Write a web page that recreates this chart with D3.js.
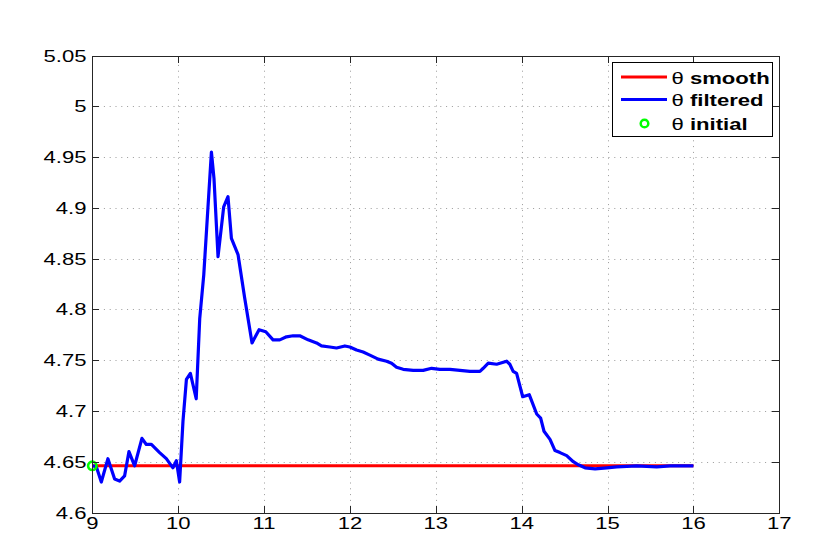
<!DOCTYPE html>
<html>
<head>
<meta charset="utf-8">
<script src="https://cdn.jsdelivr.net/npm/d3@7"></script>
<style>
  html, body { margin: 0; padding: 0; background: #fff; }
  svg { display: block; }
  text { font-family: "Liberation Sans", Arial, sans-serif; }
</style>
</head>
<body>
<svg id="chart" width="831" height="554"></svg>
<script>
// ---- data ----
const xTicks = [9, 10, 11, 12, 13, 14, 15, 16, 17];
const yTicks = [4.6, 4.65, 4.7, 4.75, 4.8, 4.85, 4.9, 4.95, 5, 5.05];
const yTickLabels = ["4.6", "4.65", "4.7", "4.75", "4.8", "4.85", "4.9", "4.95", "5", "5.05"];

const smoothT = [9, 16];
const smoothV = [4.646, 4.646];

const filteredT = [9.0, 9.047, 9.105, 9.182, 9.260, 9.318, 9.376, 9.427, 9.493, 9.578, 9.629, 9.688,
  9.784, 9.862, 9.939, 9.979, 10.017, 10.056, 10.096, 10.142, 10.21, 10.251, 10.298, 10.387, 10.417,
  10.464, 10.530, 10.580, 10.620, 10.697, 10.775, 10.860, 10.942, 11.020, 11.105, 11.183, 11.261,
  11.338, 11.416, 11.513, 11.611, 11.669, 11.766, 11.844, 11.941, 11.999, 12.077, 12.154, 12.232,
  12.329, 12.427, 12.485, 12.543, 12.620, 12.737, 12.853, 12.951, 13.048, 13.165, 13.281, 13.397,
  13.514, 13.552, 13.611, 13.709, 13.825, 13.862, 13.901, 13.941, 14.012, 14.088, 14.175, 14.221,
  14.260, 14.330, 14.388, 14.446, 14.524, 14.601, 14.660, 14.738, 14.855, 14.991, 15.107, 15.340,
  15.573, 15.728, 16.0];
const filteredV = [4.646, 4.645, 4.630, 4.653, 4.633, 4.631, 4.636, 4.660, 4.646, 4.673, 4.667, 4.667,
  4.659, 4.653, 4.644, 4.651, 4.630, 4.690, 4.731, 4.737, 4.712, 4.791, 4.834, 4.955, 4.929,
  4.852, 4.901, 4.911, 4.870, 4.854, 4.811, 4.767, 4.780, 4.778, 4.770, 4.770, 4.773,
  4.774, 4.774, 4.770, 4.767, 4.764, 4.763, 4.762, 4.764, 4.763, 4.760, 4.758, 4.755,
  4.751, 4.749, 4.747, 4.743, 4.741, 4.740, 4.740, 4.742, 4.741, 4.741, 4.740, 4.739,
  4.739, 4.742, 4.747, 4.746, 4.749, 4.746, 4.739, 4.737, 4.714, 4.716, 4.697, 4.693,
  4.680, 4.672, 4.661, 4.659, 4.656, 4.650, 4.647, 4.644, 4.643, 4.644, 4.645, 4.646,
  4.645, 4.646, 4.646];

const initialT = [9];
const initialV = [4.646];

const legendSymbol = "\u03b8";
const legendLabels = ["smooth", "filtered", "initial"];
const legendColors = ["#ff0000", "#0000ff", "#00ff00"];

// ---- layout ----
const L = 92.3, R = 779.3, T = 55.5, B = 512.5;
const x = d3.scaleLinear().domain([9, 17]).range([L, R]);
const y = d3.scaleLinear().domain([4.6, 5.05]).range([B, T]);
const svg = d3.select("#chart");
const axisColor = "#262626";
const sx = 1.3;

svg.append("rect").attr("width", 831).attr("height", 554).attr("fill", "#fff");

// grid
const grid = svg.append("g").attr("stroke", "#9a9a9a").attr("stroke-width", 1)
  .attr("stroke-dasharray", "1,4.8");
grid.selectAll("line.vx").data(xTicks.slice(1, -1)).join("line")
  .attr("class", "vx")
  .attr("x1", d => Math.round(x(d)) + 0.5).attr("x2", d => Math.round(x(d)) + 0.5)
  .attr("y1", B).attr("y2", T);
grid.selectAll("line.hy").data(yTicks.slice(1, -1)).join("line")
  .attr("class", "hy")
  .attr("y1", d => Math.round(y(d)) + 0.5).attr("y2", d => Math.round(y(d)) + 0.5)
  .attr("x1", L).attr("x2", R);

// series
const line = d3.line().x(d => x(d[0])).y(d => y(d[1]));
svg.append("path")
  .datum(d3.zip(smoothT, smoothV))
  .attr("d", line).attr("fill", "none")
  .attr("stroke", legendColors[0]).attr("stroke-width", 3);
svg.append("path")
  .datum(d3.zip(filteredT, filteredV))
  .attr("d", line).attr("fill", "none")
  .attr("stroke", legendColors[1]).attr("stroke-width", 3.2)
  .attr("stroke-linejoin", "round");
svg.selectAll("circle.init").data(d3.zip(initialT, initialV)).join("circle")
  .attr("class", "init")
  .attr("cx", d => x(d[0])).attr("cy", d => y(d[1])).attr("r", 4.2)
  .attr("fill", "none").attr("stroke", legendColors[2]).attr("stroke-width", 2.6);

// axes box
const ax = svg.append("g").attr("stroke", axisColor).attr("stroke-width", 1).attr("fill", "none");
ax.append("rect").attr("x", Math.round(L) + 0.5).attr("y", Math.round(T) + 0.5)
  .attr("width", Math.round(R) - Math.round(L)).attr("height", Math.round(B) - Math.round(T));
const tl = 7;
xTicks.forEach(v => {
  const px = Math.round(x(v)) + 0.5;
  ax.append("line").attr("x1", px).attr("x2", px).attr("y1", Math.round(B)).attr("y2", Math.round(B) - tl);
  ax.append("line").attr("x1", px).attr("x2", px).attr("y1", Math.round(T)).attr("y2", Math.round(T) + tl);
});
yTicks.forEach(v => {
  const py = Math.round(y(v)) + 0.5;
  ax.append("line").attr("y1", py).attr("y2", py).attr("x1", Math.round(L)).attr("x2", Math.round(L) + tl);
  ax.append("line").attr("y1", py).attr("y2", py).attr("x1", Math.round(R)).attr("x2", Math.round(R) - tl);
});

// tick labels
const fs = 17;
svg.append("g").selectAll("text").data(xTicks).join("text")
  .attr("transform", d => `translate(${x(d)},${528.5}) scale(${sx},1)`)
  .attr("text-anchor", "middle").attr("font-size", fs).attr("fill", "#000")
  .text(d => d);
svg.append("g").selectAll("text").data(yTicks).join("text")
  .attr("transform", d => `translate(${86.5},${y(d) + 6}) scale(${sx},1)`)
  .attr("text-anchor", "end").attr("font-size", fs).attr("fill", "#000")
  .text((d, i) => yTickLabels[i]);

// legend
const lg = svg.append("g");
lg.append("rect").attr("x", 612.5).attr("y", 62.5).attr("width", 160).attr("height", 74)
  .attr("fill", "#fff").attr("stroke", "#000").attr("stroke-width", 1);
const rowY = [77, 99.5, 123.5];
lg.append("line").attr("x1", 621).attr("x2", 667).attr("y1", rowY[0]).attr("y2", rowY[0])
  .attr("stroke", legendColors[0]).attr("stroke-width", 3);
lg.append("line").attr("x1", 621).attr("x2", 667).attr("y1", rowY[1]).attr("y2", rowY[1])
  .attr("stroke", legendColors[1]).attr("stroke-width", 3);
lg.append("circle").attr("cx", 644.5).attr("cy", rowY[2]).attr("r", 3.8)
  .attr("fill", "none").attr("stroke", legendColors[2]).attr("stroke-width", 2.5);
const lt = lg.selectAll("text").data(legendLabels).join("text")
  .attr("transform", (d, i) => `translate(671.5,${rowY[i] + 6.5}) scale(1.3,1)`)
  .attr("font-size", fs).attr("fill", "#000");
lt.append("tspan").attr("font-weight", "normal").text(legendSymbol + " ");
lt.append("tspan").attr("font-weight", "bold").text(d => d);
</script>
</body>
</html>
